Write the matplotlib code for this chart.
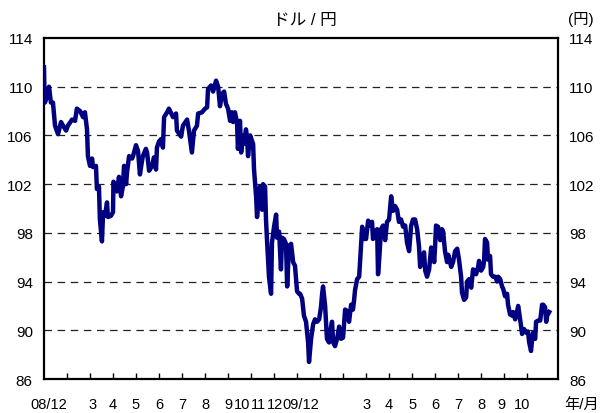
import matplotlib
matplotlib.use("Agg")
import matplotlib.pyplot as plt

# フォント（数字は Arial 系、日本語はフォールバック）
plt.rcParams['font.family'] = ['Liberation Sans', 'Noto Sans CJK JP']

# 起点からの月数（x）とドル/円レート（y）
months = [
    0.00, 0.02, 0.04, 0.13, 0.22, 0.30, 0.39, 0.48, 0.61, 0.74, 0.83, 0.96,
    1.04, 1.22, 1.35, 1.43, 1.57, 1.70, 1.78, 1.87, 1.91, 2.00, 2.09, 2.13,
    2.26, 2.30, 2.39, 2.43, 2.52, 2.57, 2.65, 2.74, 2.78, 2.91, 3.00, 3.02,
    3.13, 3.17, 3.26, 3.35, 3.43, 3.48, 3.57, 3.61, 3.70, 3.83, 3.87, 4.00,
    4.09, 4.17, 4.26, 4.30, 4.43, 4.48, 4.57, 4.70, 4.78, 4.87, 4.91, 5.00,
    5.09, 5.17, 5.22, 5.35, 5.43, 5.61, 5.74, 5.78, 5.96, 6.04, 6.22, 6.30,
    6.43, 6.52, 6.65, 6.70, 6.87, 7.00, 7.09, 7.13, 7.26, 7.35, 7.48, 7.57,
    7.65, 7.74, 7.83, 7.91, 8.00, 8.09, 8.17, 8.22, 8.30, 8.39, 8.43, 8.52,
    8.57, 8.65, 8.70, 8.78, 8.83, 8.87, 8.96, 9.09, 9.13, 9.22, 9.26, 9.35,
    9.39, 9.48, 9.52, 9.61, 9.65, 9.70, 9.78, 9.87, 9.91, 10.00, 10.09, 10.13,
    10.22, 10.30, 10.35, 10.43, 10.52, 10.57, 10.65, 10.74, 10.83, 10.91, 11.00, 11.09,
    11.13, 11.22, 11.30, 11.39, 11.48, 11.52, 11.61, 11.70, 11.78, 11.87, 11.96, 12.04,
    12.09, 12.13, 12.22, 12.30, 12.39, 12.48, 12.52, 12.57, 12.65, 12.74, 12.83, 12.91,
    13.00, 13.09, 13.17, 13.26, 13.35, 13.43, 13.48, 13.52, 13.61, 13.70, 13.78, 13.83,
    13.91, 14.00, 14.09, 14.17, 14.26, 14.30, 14.39, 14.48, 14.52, 14.57, 14.65, 14.74,
    14.83, 14.91, 15.00, 15.09, 15.17, 15.26, 15.35, 15.43, 15.52, 15.61, 15.70, 15.78,
    15.87, 15.96, 16.04, 16.13, 16.22, 16.30, 16.35, 16.43, 16.52, 16.57, 16.65, 16.74,
    16.83, 16.91, 16.96, 17.00, 17.04, 17.13, 17.22, 17.30, 17.35, 17.43, 17.52, 17.57,
    17.70, 17.78, 17.87, 17.96, 18.04, 18.13, 18.17, 18.26, 18.35, 18.39, 18.48, 18.57,
    18.65, 18.74, 18.78, 18.87, 18.91, 19.00, 19.09, 19.13, 19.17, 19.26, 19.30, 19.39,
    19.43, 19.52, 19.61, 19.70, 19.74, 19.83, 19.91, 19.96, 20.04, 20.13, 20.17, 20.26,
    20.35, 20.39, 20.48, 20.57, 20.61, 20.65, 20.74, 20.78, 20.87, 20.96, 21.04, 21.09,
    21.17, 21.22, 21.26, 21.35, 21.39, 21.48, 21.57, 21.65, 21.70, 21.78, 21.83, 21.87,
    21.96,
]
usdjpy = [
    111.6, 109.6, 108.7, 109.2, 110.0, 108.7, 108.7, 106.8, 106.1, 107.1, 106.8, 106.4,
    106.8, 107.3, 107.2, 108.2, 108.0, 107.5, 107.9, 106.5, 104.3, 103.5, 104.1, 103.4,
    103.5, 101.6, 101.8, 99.1, 97.3, 99.7, 99.4, 100.5, 99.3, 99.4, 99.7, 102.2,
    101.8, 101.4, 102.6, 101.0, 101.8, 103.5, 102.0, 103.0, 104.3, 104.1, 104.3, 105.2,
    104.7, 102.8, 103.9, 104.3, 104.9, 104.6, 103.1, 103.5, 104.2, 103.2, 105.0, 105.5,
    105.7, 105.0, 107.5, 107.9, 108.2, 107.5, 107.8, 106.4, 105.9, 106.8, 107.3, 106.4,
    104.6, 106.4, 106.8, 107.8, 107.9, 108.2, 108.3, 109.8, 110.1, 109.6, 110.5, 110.0,
    108.4, 109.4, 109.6, 108.6, 108.2, 107.2, 107.9, 107.1, 107.9, 107.1, 104.9, 107.2,
    104.6, 106.0, 105.3, 106.5, 105.7, 104.3, 106.0, 105.3, 103.2, 101.0, 99.3, 101.0,
    101.8, 99.9, 102.0, 101.8, 99.1, 97.2, 94.4, 93.0, 97.2, 98.5, 99.5, 97.6,
    98.1, 95.0, 97.6, 97.5, 97.1, 93.6, 96.9, 97.1, 95.6, 95.3, 93.2, 93.0,
    93.0, 92.6, 91.2, 90.7, 89.0, 87.4, 89.3, 90.5, 90.9, 90.7, 90.9, 91.9,
    93.0, 93.6, 92.0, 89.3, 89.0, 90.3, 90.7, 89.0, 88.7, 89.3, 90.3, 89.3,
    89.4, 91.7, 91.6, 90.7, 92.1, 91.7, 92.5, 93.3, 94.2, 94.4, 96.9, 98.5,
    97.5, 97.5, 99.0, 98.6, 98.9, 97.5, 98.1, 98.3, 94.6, 95.8, 98.3, 98.6,
    97.4, 98.9, 99.1, 101.0, 99.8, 100.2, 99.9, 98.9, 99.1, 98.5, 98.6, 97.2,
    96.5, 98.6, 99.1, 99.1, 98.3, 96.9, 95.2, 95.7, 96.4, 94.9, 94.4, 95.0,
    96.8, 96.5, 95.6, 96.9, 98.6, 98.5, 97.4, 98.3, 98.1, 96.5, 95.6, 96.2,
    95.2, 95.6, 96.5, 96.7, 95.8, 94.4, 93.1, 92.5, 92.7, 94.0, 94.2, 93.5,
    95.0, 94.9, 94.6, 95.2, 95.7, 94.9, 95.2, 95.7, 97.5, 97.2, 95.8, 96.1,
    94.6, 94.4, 94.4, 94.0, 94.4, 94.2, 93.6, 93.4, 92.8, 93.0, 92.1, 91.3,
    91.2, 91.5, 90.9, 91.6, 92.0, 91.5, 90.3, 89.7, 90.1, 89.8, 89.9, 89.0,
    88.3, 89.3, 89.8, 89.3, 90.7, 90.8, 90.8, 92.1, 92.1, 91.9, 90.7, 91.2,
    91.5,
]

# 目盛りラベル（元の図の表記どおり）
label_pos = [0.2, 2.1, 3.0, 3.96, 5.0, 6.0, 7.0, 8.0, 8.62, 9.32, 10.02, 11.15,
             14.0, 15.0, 16.0, 17.0, 18.0, 19.0, 19.9, 20.8]
label_txt = ['08/12', '3', '4', '5', '6', '7', '8', '9', '10', '11', '12', '09/12',
             '3', '4', '5', '6', '7', '8', '9', '10']
y_ticks = [86, 90, 94, 98, 102, 106, 110, 114]

fig = plt.figure(figsize=(6.0, 4.14), dpi=100)
ax = fig.add_axes([0.0733, 0.0821, 0.857, 0.8237])

ax.plot(months, usdjpy, color='#000080', lw=3.2, solid_joinstyle='round', zorder=3)

ax.set_xlim(0, 22.35)
ax.set_ylim(86, 114)

# 横の破線グリッド
for v in y_ticks[1:-1]:
    ax.axhline(v, color='#222222', lw=0.9, ls=(0, (6, 4.5)), zorder=1)

# y軸（左右とも）
ax.set_yticks(y_ticks)
ax.tick_params(axis='y', which='both', length=0, labelsize=11, pad=8,
               left=False, right=False, labelleft=True, labelright=True)

# x軸：月ごとの目盛り線とラベル
ax.xaxis.remove_overlapping_locs = False
ax.set_xticks(range(1, 22))
ax.set_xticklabels([])
ax.tick_params(axis='x', which='major', direction='in', length=4, width=1)
ax.set_xticks(label_pos, minor=True)
ax.set_xticklabels(label_txt, minor=True)
ax.tick_params(axis='x', which='minor', length=0, labelsize=10.5, pad=13)

for s in ax.spines.values():
    s.set_linewidth(1.6)
    s.set_color('black')

fig.text(0.508, 0.951, 'ドル / 円', ha='center', va='center', fontsize=12)
fig.text(0.968, 0.952, '(円)', ha='center', va='center', fontsize=11)
fig.text(0.970, 0.022, '年/月', ha='center', va='center', fontsize=11)

fig.savefig('out.png', dpi=100)
